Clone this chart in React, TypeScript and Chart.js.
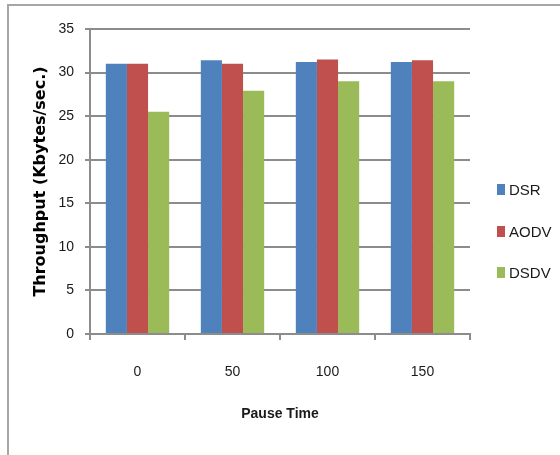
import React, { useEffect, useRef } from "react";
import { Chart, registerables } from "chart.js";

Chart.register(...registerables);

const categories = ["0", "50", "100", "150"];
const seriesNames = ["DSR", "AODV", "DSDV"];
const dsr = [31.0, 31.4, 31.2, 31.2];
const aodv = [31.0, 31.0, 31.5, 31.4];
const dsdv = [25.5, 27.9, 29.0, 29.0];
const colors = ["#4F81BD", "#C0504D", "#9BBB59"];
const xTitle = "Pause Time";
const yTitle = "Throughput (Kbytes/sec.)";

const TICK_FONT = "'Liberation Sans', Arial, sans-serif";
const GRID = "#8c8c8c";

export default function App() {
  const ref = useRef<HTMLCanvasElement | null>(null);

  useEffect(() => {
    if (!ref.current) return;
    const seriesValues = [dsr, aodv, dsdv];
    const chart = new Chart(ref.current, {
      type: "bar",
      data: {
        labels: categories,
        datasets: seriesNames.map((name, i) => ({
          label: name,
          data: seriesValues[i],
          backgroundColor: colors[i],
          borderWidth: 0,
          categoryPercentage: 0.667,
          barPercentage: 1.0,
        })),
      },
      options: {
        animation: false,
        responsive: false,
        layout: { padding: { top: 23, right: 90, bottom: 0, left: 0 } },
        plugins: {
          legend: { display: false },
          tooltip: { enabled: false },
        },
        scales: {
          x: {
            grid: {
              offset: true,
              drawOnChartArea: false,
              tickLength: 6,
              color: GRID,
              lineWidth: 2,
            },
            border: { color: GRID, width: 2 },
            ticks: {
              padding: 24,
              color: "#1a1a1a",
              font: { family: TICK_FONT, size: 14 },
            },
            title: {
              display: true,
              text: xTitle,
              color: "#1a1a1a",
              font: { family: TICK_FONT, size: 14, weight: "bold" },
              padding: { top: 0, bottom: 32 },
            },
            afterFit: (scale: any) => {
              scale.height = 121;
            },
          },
          y: {
            min: 0,
            max: 35,
            ticks: {
              stepSize: 5,
              padding: 11,
              color: "#1a1a1a",
              font: { family: TICK_FONT, size: 14 },
            },
            grid: {
              color: GRID,
              lineWidth: 2,
              tickLength: 5,
            },
            border: { color: GRID, width: 2 },
            title: {
              display: true,
              text: yTitle,
              color: "#000",
              font: { family: "'DejaVu Sans', Verdana, sans-serif", size: 16, weight: "bold" },
              padding: { top: 22, bottom: 0 },
            },
            afterFit: (scale: any) => {
              scale.width = 81;
            },
          },
        },
      },
    });
    return () => chart.destroy();
  }, []);

  const legendTops = [189, 231, 272];

  return (
    <div style={{ position: "fixed", left: 0, top: 0, width: 560, height: 455, background: "#fff", overflow: "hidden" }}>
      <div
        style={{
          position: "absolute",
          left: 7,
          top: 4,
          width: 560,
          height: 460,
          borderLeft: "2px solid #a6a6a6",
          borderTop: "2px solid #a6a6a6",
        }}
      />
      <canvas
        ref={ref}
        width={551}
        height={449}
        style={{ position: "absolute", left: 9, top: 6, width: 551, height: 449 }}
      />
      {seriesNames.map((name, i) => (
        <div
          key={name}
          style={{
            position: "absolute",
            left: 497,
            top: legendTops[i] - 9,
            height: 18,
            display: "flex",
            alignItems: "center",
            fontFamily: "'Liberation Sans Narrow', 'Liberation Sans', sans-serif",
            fontSize: 15,
            color: "#1a1a1a",
            whiteSpace: "nowrap",
          }}
        >
          <span style={{ display: "inline-block", width: 8, height: 11, background: colors[i], marginRight: 4 }} />
          <span>{name}</span>
        </div>
      ))}
    </div>
  );
}
